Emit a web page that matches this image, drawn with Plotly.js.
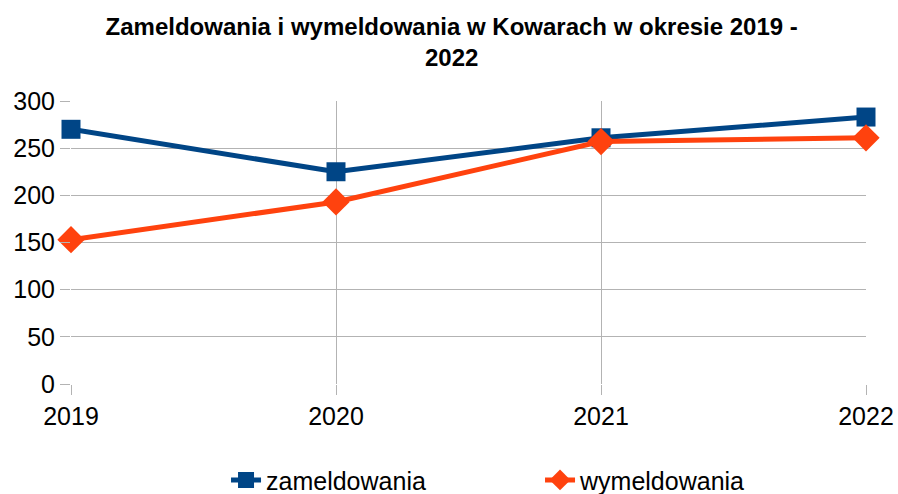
<!DOCTYPE html>
<html>
<head>
<meta charset="utf-8">
<script src="https://cdn.plot.ly/plotly-3.0.1.min.js"></script>
<style>html,body{margin:0;padding:0;background:#fff;}#chart{width:898px;height:494px;}</style>
</head>
<body>
<div id="chart"></div>
<script>
var years = ["2019", "2020", "2021", "2022"];
var zameldowania = [270, 225, 261, 283];
var wymeldowania = [153, 193, 257, 261];
var yTicks = [0, 50, 100, 150, 200, 250, 300];

var traces = [
  {
    x: years, y: zameldowania, name: "zameldowania", type: "scatter", mode: "lines+markers",
    cliponaxis: false,
    line: {color: "#004586", width: 5},
    marker: {symbol: "square", size: 19, color: "#004586"}
  },
  {
    x: years, y: wymeldowania, name: "wymeldowania", type: "scatter", mode: "lines+markers",
    cliponaxis: false,
    line: {color: "#ff420e", width: 5},
    marker: {symbol: "diamond", size: 21, color: "#ff420e"}
  }
];

var layout = {
  width: 898, height: 494,
  margin: {l: 71, r: 32, t: 101, b: 110},
  paper_bgcolor: "#fff", plot_bgcolor: "#fff",
  font: {family: "Liberation Sans, Arial, sans-serif", color: "#000", size: 25},
  title: {
    text: "<b>Zameldowania i wymeldowania w Kowarach w okresie 2019 -<br>2022</b>",
    font: {size: 24, family: "Liberation Sans, Arial, sans-serif", color: "#000"},
    x: 0.503, xanchor: "center", xref: "container",
    y: 0.93, yanchor: "middle", yref: "container"
  },
  xaxis: {
    type: "category", range: [0, 3],
    showgrid: true, gridcolor: "#b3b3b3", gridwidth: 1,
    ticks: "outside", ticklen: 10, tickcolor: "#b3b3b3",
    showline: false, zeroline: false,
    tickfont: {size: 25}
  },
  yaxis: {
    range: [0, 300], tickvals: yTicks, ticktext: yTicks.map(String),
    showgrid: true, gridcolor: "#b3b3b3", gridwidth: 1,
    ticks: "outside", ticklen: 10, tickcolor: "#b3b3b3",
    showline: false, zeroline: false,
    tickfont: {size: 25}
  },
  showlegend: true,
  legend: {
    orientation: "h", x: 0.2517, xanchor: "left", xref: "container",
    y: 0.028, yanchor: "middle", yref: "container",
    font: {size: 25}, entrywidth: 269, entrywidthmode: "pixels"
  }
};

Plotly.newPlot("chart", traces, layout, {displayModeBar: false, staticPlot: true});
</script>
</body>
</html>
